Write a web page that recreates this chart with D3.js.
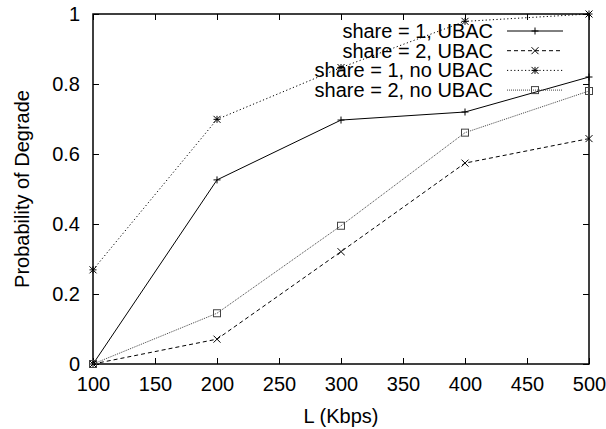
<!DOCTYPE html>
<html>
<head>
<meta charset="utf-8">
<script src="https://cdn.jsdelivr.net/npm/d3@7"></script>
<style>
  html, body { margin: 0; padding: 0; background: #fff; }
  svg { display: block; font-family: "Liberation Sans", Arial, sans-serif; }
</style>
</head>
<body>
<svg id="chart" width="606" height="429"></svg>
<script>
// Link capacity L (Kbps)
const bandwidth = [100, 200, 300, 400, 500];

// Probability of degrade per configuration
const share1Ubac   = [0.0, 0.526, 0.697, 0.720, 0.820];
const share2Ubac   = [0.0, 0.071, 0.321, 0.574, 0.644];
const share1NoUbac = [0.269, 0.699, 0.847, 0.979, 1.0];
const share2NoUbac = [0.0, 0.145, 0.395, 0.661, 0.780];

const seriesNames = ["share = 1, UBAC", "share = 2, UBAC", "share = 1, no UBAC", "share = 2, no UBAC"];
const xTicks = [100, 150, 200, 250, 300, 350, 400, 450, 500];
const yTicks = [0, 0.2, 0.4, 0.6, 0.8, 1];

const styles = [
  { dash: null,      color: "#000", marker: "plus"   },
  { dash: "4,3",     color: "#000", marker: "cross"  },
  { dash: "1.2,2.4", color: "#000", marker: "star"   },
  { dash: "1,1",     color: "#444", marker: "square" }
];
const seriesValues = [share1Ubac, share2Ubac, share1NoUbac, share2NoUbac];

const svg = d3.select("#chart");
const m = { left: 93, right: 589, top: 14, bottom: 364 };

const x = d3.scaleLinear().domain([100, 500]).range([m.left, m.right]);
const y = d3.scaleLinear().domain([0, 1]).range([m.bottom, m.top]);
const tickLen = 6;
const fontSize = 20;

// Axes with inward ticks, mirrored on top and right
const axisB = svg.append("g").attr("transform", `translate(0,${m.bottom})`)
  .call(d3.axisBottom(x).tickValues(xTicks).tickSizeInner(-tickLen).tickSizeOuter(0).tickPadding(13).tickFormat(d3.format("d")));
const axisT = svg.append("g").attr("transform", `translate(0,${m.top})`)
  .call(d3.axisTop(x).tickValues(xTicks).tickSizeInner(-tickLen).tickSizeOuter(0).tickFormat(""));
const axisL = svg.append("g").attr("transform", `translate(${m.left},0)`)
  .call(d3.axisLeft(y).tickValues(yTicks).tickSizeInner(-tickLen).tickSizeOuter(0).tickPadding(13).tickFormat(d => d === 0 || d === 1 ? d3.format("d")(d) : d3.format(".1f")(d)));
const axisR = svg.append("g").attr("transform", `translate(${m.right},0)`)
  .call(d3.axisRight(y).tickValues(yTicks).tickSizeInner(-tickLen).tickSizeOuter(0).tickFormat(""));

[axisB, axisT, axisL, axisR].forEach(g => {
  g.select(".domain").remove();
  g.selectAll(".tick line").attr("stroke", "#000").attr("stroke-width", 1);
  g.selectAll(".tick text").attr("fill", "#000").style("font-size", fontSize + "px")
    .style("font-family", '"Liberation Sans", Arial, sans-serif');
});

// Frame
svg.append("rect")
  .attr("x", m.left).attr("y", m.top)
  .attr("width", m.right - m.left).attr("height", m.bottom - m.top)
  .attr("fill", "none").attr("stroke", "#000").attr("stroke-width", 1.5);

// Axis titles
svg.append("text")
  .attr("x", (m.left + m.right) / 2).attr("y", 423)
  .attr("text-anchor", "middle").style("font-size", fontSize + "px")
  .text("L (Kbps)");
svg.append("text")
  .attr("transform", `translate(29,${(m.top + m.bottom) / 2}) rotate(-90)`)
  .attr("text-anchor", "middle").style("font-size", fontSize + "px")
  .text("Probability of Degrade");

// Point markers
function drawMarker(g, type, cx, cy, color) {
  const s = 3.5;
  const mk = g.append("g").attr("transform", `translate(${cx},${cy})`)
    .attr("stroke", color).attr("stroke-width", 1).attr("fill", "none");
  if (type === "plus" || type === "star") {
    mk.append("line").attr("x1", -s).attr("x2", s).attr("y1", 0).attr("y2", 0);
    mk.append("line").attr("x1", 0).attr("x2", 0).attr("y1", -s).attr("y2", s);
  }
  if (type === "cross" || type === "star") {
    mk.append("line").attr("x1", -s).attr("x2", s).attr("y1", -s).attr("y2", s);
    mk.append("line").attr("x1", -s).attr("x2", s).attr("y1", s).attr("y2", -s);
  }
  if (type === "square") {
    mk.append("rect").attr("x", -s).attr("y", -s).attr("width", 2 * s).attr("height", 2 * s);
  }
}

const line = d3.line().x(d => x(d[0])).y(d => y(d[1]));

seriesValues.forEach((vals, i) => {
  const st = styles[i];
  const pts = bandwidth.map((b, j) => [b, vals[j]]);
  svg.append("path").datum(pts)
    .attr("d", line)
    .attr("fill", "none").attr("stroke", st.color).attr("stroke-width", 1)
    .attr("stroke-dasharray", st.dash);
  const g = svg.append("g");
  pts.forEach(p => drawMarker(g, st.marker, x(p[0]), y(p[1]), st.color));
});

// Legend
const legX = 493, legY0 = 31, legDy = 19.7;
seriesNames.forEach((name, i) => {
  const st = styles[i];
  const ly = legY0 + i * legDy;
  svg.append("text")
    .attr("x", legX).attr("y", ly).attr("dy", "0.35em")
    .attr("text-anchor", "end").style("font-size", fontSize + "px")
    .text(name);
  svg.append("line")
    .attr("x1", 507).attr("x2", 563).attr("y1", ly).attr("y2", ly)
    .attr("stroke", st.color).attr("stroke-width", 1)
    .attr("stroke-dasharray", st.dash);
  drawMarker(svg, st.marker, 535, ly, st.color);
});
</script>
</body>
</html>
